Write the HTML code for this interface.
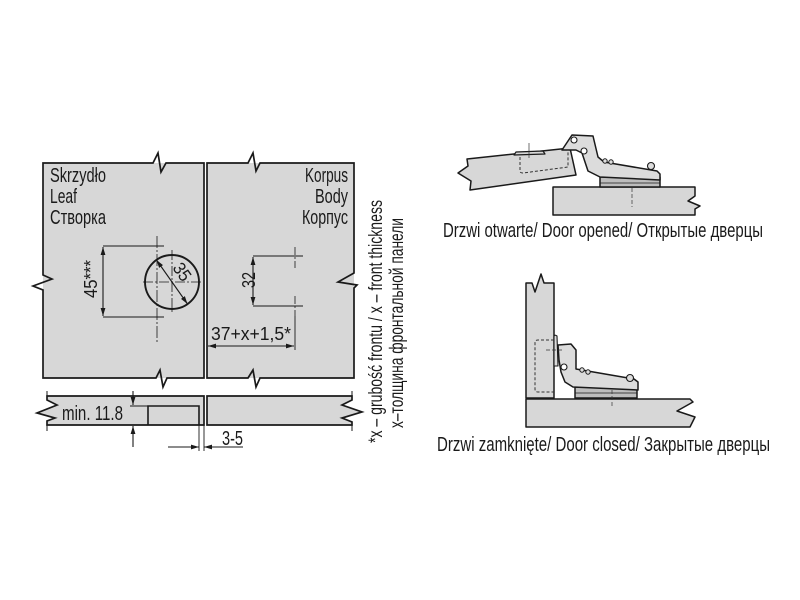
<!DOCTYPE html>
<html><head><meta charset="utf-8"><style>
html,body{margin:0;padding:0;background:#fff;}
svg{display:block;}
text{font-family:"Liberation Sans Narrow","Liberation Sans",sans-serif;fill:#1a1a1a;}
</style></head><body>
<svg width="800" height="600" viewBox="0 0 800 600" xmlns="http://www.w3.org/2000/svg">
<defs>
<marker id="a" viewBox="0 0 10 6" refX="10" refY="3" markerWidth="8" markerHeight="5" markerUnits="userSpaceOnUse" orient="auto-start-reverse"><path d="M0,0 L10,3 L0,6 z" fill="#1a1a1a"/></marker>
</defs>
<rect width="800" height="600" fill="#fff"/>

<!-- Leaf panel -->
<rect x="43" y="163" width="161" height="215" fill="#d7d7d7"/>
<path d="M43,163 L153,163 L158,153 L161,172 L166,163 L204,163 L204,378 L167,378 L163,387 L160,370 L156,378 L43,378 L43,290 L33,286 L52,279 L43,275 Z" fill="none" stroke="#1a1a1a" stroke-width="1.7" stroke-linejoin="miter"/>
<!-- Korpus panel -->
<rect x="207" y="163" width="147" height="215" fill="#d7d7d7"/>
<path d="M207,163 L248,163 L253,153 L256,171 L260,163 L354,163 L354,273 L338,282 L357,285 L354,288 L354,378 L260,378 L256,387 L253,370 L248,378 L207,378 Z" fill="none" stroke="#1a1a1a" stroke-width="1.7"/>

<!-- labels -->
<text x="50" y="182" font-size="20" textLength="56" lengthAdjust="spacingAndGlyphs">Skrzydło</text>
<text x="50" y="203" font-size="20" textLength="27" lengthAdjust="spacingAndGlyphs">Leaf</text>
<text x="50" y="224" font-size="20" textLength="56" lengthAdjust="spacingAndGlyphs">Створка</text>
<text x="305" y="182" font-size="20" textLength="43" lengthAdjust="spacingAndGlyphs">Korpus</text>
<text x="315" y="203" font-size="20" textLength="33" lengthAdjust="spacingAndGlyphs">Body</text>
<text x="302" y="224" font-size="20" textLength="46" lengthAdjust="spacingAndGlyphs">Корпус</text>

<!-- Leaf: cup circle & crosshairs -->
<g stroke="#1a1a1a" fill="none">
<circle cx="172" cy="282" r="27" stroke-width="1.9"/>
<line x1="143" y1="282" x2="203" y2="282" stroke-width="0.8" stroke-dasharray="10 2 2 2"/>
<line x1="172" y1="250" x2="172" y2="313" stroke-width="0.8" stroke-dasharray="10 2 2 2"/>
<line x1="157" y1="236" x2="157" y2="342" stroke-width="0.8" stroke-dasharray="12 2 2 2"/>
<line x1="103" y1="246" x2="164" y2="246" stroke-width="0.9"/>
<line x1="103" y1="317" x2="164" y2="317" stroke-width="0.9"/>
<line x1="103" y1="247" x2="103" y2="316" stroke-width="1.1" marker-start="url(#a)" marker-end="url(#a)"/>
<line x1="156.5" y1="260" x2="187.5" y2="304" stroke-width="1.1" marker-start="url(#a)" marker-end="url(#a)"/>
</g>
<text transform="translate(97,298) rotate(-90)" font-size="18" textLength="38" lengthAdjust="spacingAndGlyphs">45***</text>
<text transform="translate(172,268) rotate(55)" font-size="18" textLength="18" lengthAdjust="spacingAndGlyphs">35</text>

<!-- Korpus dims -->
<g stroke="#1a1a1a" fill="none">
<line x1="253" y1="256" x2="303" y2="256" stroke-width="0.9"/>
<line x1="253" y1="306" x2="303" y2="306" stroke-width="0.9"/>
<line x1="295" y1="247" x2="295" y2="268" stroke-width="0.8" stroke-dasharray="8 2 2 2"/>
<line x1="295" y1="296" x2="295" y2="316" stroke-width="0.8" stroke-dasharray="8 2 2 2"/>
<line x1="295" y1="316" x2="295" y2="350" stroke-width="0.9"/>
<line x1="253" y1="257" x2="253" y2="305" stroke-width="1.1" marker-start="url(#a)" marker-end="url(#a)"/>
<line x1="208" y1="346" x2="294" y2="346" stroke-width="1.1" marker-start="url(#a)" marker-end="url(#a)"/>
</g>
<text transform="translate(255,288) rotate(-90)" font-size="18" textLength="16" lengthAdjust="spacingAndGlyphs">32</text>
<text x="211" y="340" font-size="18" textLength="80" lengthAdjust="spacingAndGlyphs">37+x+1,5*</text>

<!-- Bottom strips -->
<path d="M47,396 L204,396 L204,425 L47,425 L47,421 L55,418 L37,413 L57,405 L47,400 Z" fill="#d7d7d7" stroke="#1a1a1a" stroke-width="1.7"/>
<path d="M207,396 L352,396 L352,400 L342,405 L362,412 L342,418 L352,422 L352,425 L207,425 Z" fill="#d7d7d7" stroke="#1a1a1a" stroke-width="1.7"/>
<g stroke="#1a1a1a" fill="none">
<line x1="47" y1="391" x2="47" y2="396" stroke-width="1"/>
<line x1="47" y1="425" x2="47" y2="431" stroke-width="1"/>
<line x1="352" y1="391" x2="352" y2="396" stroke-width="1"/>
<line x1="352" y1="425" x2="352" y2="431" stroke-width="1"/>
<path d="M148,425 L148,406 L199,406 L199,425" stroke-width="1.6"/>
<line x1="130" y1="406" x2="148" y2="406" stroke-width="0.9"/>
<line x1="133" y1="391" x2="133" y2="405" stroke-width="1.1" marker-end="url(#a)"/>
<line x1="133" y1="447" x2="133" y2="426" stroke-width="1.1" marker-end="url(#a)"/>
<line x1="199" y1="425" x2="199" y2="451" stroke-width="0.9"/>
<line x1="204" y1="425" x2="204" y2="451" stroke-width="0.9"/>
<line x1="168" y1="447" x2="199" y2="447" stroke-width="1.1" marker-end="url(#a)"/>
<line x1="243" y1="447" x2="204" y2="447" stroke-width="1.1" marker-end="url(#a)"/>
</g>
<text x="62" y="420" font-size="20" textLength="61" lengthAdjust="spacingAndGlyphs">min. 11.8</text>
<text x="222" y="445" font-size="20" textLength="21" lengthAdjust="spacingAndGlyphs">3-5</text>

<!-- Side notes -->
<text transform="translate(382,443) rotate(-90)" font-size="19" textLength="243" lengthAdjust="spacingAndGlyphs">*x – grubość frontu / x – front thickness</text>
<text transform="translate(403,428) rotate(-90)" font-size="19" textLength="210" lengthAdjust="spacingAndGlyphs">x–толщина фронтальной панели</text>

<!-- Open hinge drawing -->
<g stroke="#1a1a1a" stroke-width="1.5" stroke-linejoin="round">
<path d="M553,187 L695,187 L695,196 L688,201 L700,206 L695,209 L695,215 L553,215 Z" fill="#d7d7d7"/>
<rect x="600" y="177" width="60" height="10" fill="#bdbdbd"/>
<line x1="600" y1="183" x2="660" y2="183" stroke-width="0.8"/>
<path d="M467,159 L570,148 L576,175 L470,190 L471,181 L458,173 L468,166 Z" fill="#d7d7d7"/>
<path d="M514,155 L516,152 L543,151 L545,154 Z" fill="#d7d7d7" stroke-width="1.2"/>
<path d="M562,150 L572,135 L593,136 L598,157 L604,162 L657,171 L660,174 L660,180 L600,177 L588,171 L582,153 L576,150 Z" fill="#dcdcdc"/>
<circle cx="574" cy="140" r="3" fill="#fff" stroke-width="1.1"/>
<circle cx="584" cy="151" r="3" fill="#fff" stroke-width="1.1"/>
<circle cx="605" cy="161" r="2.2" fill="#ddd" stroke-width="1"/>
<circle cx="611" cy="162" r="2.2" fill="#ddd" stroke-width="1"/>
<circle cx="651" cy="166" r="3.5" fill="#ddd" stroke-width="1.1"/>
</g>
<g stroke="#333" fill="none" stroke-width="1">
<path d="M520,157 L520,171 Q520,173 523,173 L568,167 L568,150" stroke-dasharray="3 2"/>
<line x1="529" y1="143" x2="529" y2="158" stroke-width="0.7"/>
<line x1="632" y1="188" x2="632" y2="207" stroke-width="0.7" stroke-dasharray="4 2"/>
</g>
<text x="443" y="237" font-size="20" textLength="320" lengthAdjust="spacingAndGlyphs">Drzwi otwarte/ Door opened/ Открытые дверцы</text>

<!-- Closed hinge drawing -->
<g stroke="#1a1a1a" stroke-width="1.5" stroke-linejoin="round">
<path d="M526,399 L690,399 L693,402 L677,411 L695,417 L690,427 L526,427 Z" fill="#d7d7d7"/>
<path d="M526,398 L526,283 L532,283 L535,292 L541,274 L544,283 L554,283 L554,398 Z" fill="#d7d7d7"/>
<rect x="575" y="387" width="62" height="11" fill="#bdbdbd"/>
<line x1="575" y1="393" x2="637" y2="393" stroke-width="0.8"/>
<path d="M554,337 Q554,334 557,336 L558,366 L554,366 Z" fill="#dcdcdc" stroke-width="1.1"/>
<path d="M558,345 L571,344 L576,350 L576,369 L634,379 L638,382 L638,390 L573,387 L565,382 L561,372 L559,360 Z" fill="#dcdcdc"/>
<circle cx="564" cy="367" r="3" fill="#fff" stroke-width="1.1"/>
<circle cx="582" cy="370" r="2.2" fill="#ddd" stroke-width="1"/>
<circle cx="588" cy="372" r="2.2" fill="#ddd" stroke-width="1"/>
<circle cx="630" cy="378" r="3.5" fill="#ddd" stroke-width="1.1"/>
</g>
<g stroke="#333" fill="none" stroke-width="1">
<path d="M554,340 L538,340 Q535,340 535,343 L535,389 Q535,392 538,392 L554,392" stroke-dasharray="3 2"/>
<line x1="546" y1="350" x2="562" y2="350" stroke-width="0.7" stroke-dasharray="4 2"/>
<line x1="612" y1="390" x2="612" y2="406" stroke-width="0.7" stroke-dasharray="4 2"/>
</g>
<text x="437" y="451" font-size="20" textLength="333" lengthAdjust="spacingAndGlyphs">Drzwi zamknięte/ Door closed/ Закрытые  дверцы</text>
</svg>
</body></html>
